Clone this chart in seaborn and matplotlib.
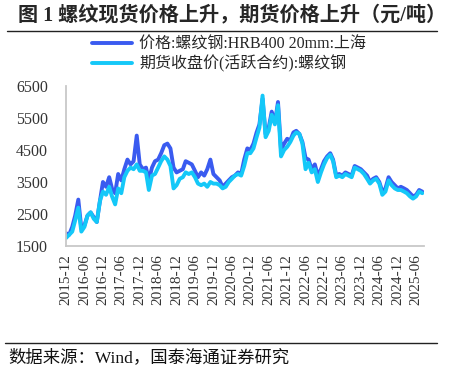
import matplotlib
matplotlib.use("Agg")
import matplotlib.pyplot as plt
import seaborn as sns
import pandas as pd

months = pd.date_range("2015-12-01", periods=117, freq="MS")

spot = [1900,1850,2100,2450,2950,2050,2150,2450,2550,2400,2250,2900,
        3500,3350,3650,3300,3150,3750,3550,3900,4200,4050,4150,4950,
        4050,3900,3950,3550,3950,4150,4200,4400,4650,4700,4550,3950,
        3800,3850,3900,4150,4100,4050,3850,3650,3800,3700,3900,4200,
        3750,3650,3550,3350,3450,3550,3650,3700,3800,3750,4200,4550,
        4500,4700,5050,5300,6100,5000,5200,5700,5350,6000,4500,4700,
        4850,4800,5050,5100,5000,4750,4250,4200,3900,4050,3700,3900,
        4150,4300,4400,4200,3700,3750,3700,3800,3750,3700,4000,3950,
        3900,3800,3700,3500,3600,3650,3500,3200,3300,3650,3500,3400,
        3300,3350,3300,3250,3150,3050,3100,3250,3200]

futures = [1750,1850,1950,2300,2700,1950,2100,2450,2550,2350,2250,2900,
           3200,3100,3350,3050,2800,3300,3150,3650,3850,3950,3900,4050,
           3850,3850,3800,3250,3700,3750,3950,4150,4300,4200,4000,3300,
           3400,3600,3650,3800,3750,3800,3650,3450,3400,3450,3350,3500,
           3450,3450,3400,3300,3350,3500,3600,3700,3750,3700,4000,4400,
           4400,4550,4900,5200,6200,4900,5100,5600,5300,5900,4300,4500,
           4600,4750,4950,5050,5000,4700,3900,4100,3800,3900,3500,3800,
           4050,4250,4350,4150,3650,3700,3650,3750,3700,3650,3950,3900,
           3850,3750,3600,3450,3550,3600,3450,3100,3200,3550,3400,3300,
           3250,3250,3200,3150,3050,2980,3050,3200,3150]

series_names = ["价格:螺纹钢:HRB400 20mm:上海", "期货收盘价(活跃合约):螺纹钢"]
series_colors = ["#3A5BF0", "#14C8F8"]
y_ticks = [1500, 2500, 3500, 4500, 5500, 6500]
x_ticks = pd.date_range("2015-12-01", "2025-06-01", freq="6MS")

df = pd.concat([
    pd.DataFrame({"date": months, "value": spot, "series": series_names[0]}),
    pd.DataFrame({"date": months, "value": futures, "series": series_names[1]}),
])

sns.set_theme(style="white")
fams = ["Liberation Serif", "Noto Sans CJK SC", "DejaVu Sans"]
plt.rcParams["font.family"] = fams

fig = plt.figure(figsize=(4.6, 3.73), dpi=100)
ax = fig.add_axes([66/460, 1-246/373, (424-66)/460, (246-86)/373])

sns.lineplot(data=df, x="date", y="value", hue="series", hue_order=series_names,
             palette=series_colors, linewidth=2.8, ax=ax, legend=True)

handles, labels = ax.get_legend_handles_labels()
ax.get_legend().remove()
for h in handles:
    h.set_linewidth(2.8)
fig.legend(handles, labels, loc="upper left", bbox_to_anchor=(92/460, 1-37/373),
           frameon=False, borderpad=0, borderaxespad=0,
           handlelength=2.5, handletextpad=0.45, labelspacing=0.12,
           prop={"family": fams, "size": 11.5})

ax.set_xlim(pd.Timestamp("2015-12-01"), pd.Timestamp("2025-08-18"))
ax.set_ylim(1500, 6500)
ax.set_yticks(y_ticks)
ax.set_yticklabels([str(v) for v in y_ticks], fontsize=11.5, color="#333333")
ax.set_xticks(x_ticks)
ax.set_xticklabels([d.strftime("%Y-%m") for d in x_ticks], rotation=90,
                   fontsize=11, color="#333333")
ax.set_xlabel("")
ax.set_ylabel("")
for s in ["top", "right"]:
    ax.spines[s].set_visible(False)
for s in ["left", "bottom"]:
    ax.spines[s].set_color("#C8C8C8")
    ax.spines[s].set_linewidth(1.3)
ax.tick_params(axis="both", direction="in", length=4, width=1, color="#C8C8C8")
ax.tick_params(axis="y", pad=13)
ax.tick_params(axis="x", pad=6)

fig.text(18/460, 1-15/373, "图 1 螺纹现货价格上升，期货价格上升（元/吨）",
         fontsize=14.5, fontweight="bold", va="center", ha="left", family=fams)
fig.add_artist(plt.Line2D([7/460, 437/460], [1-30.5/373, 1-30.5/373],
                          color="#222222", linewidth=1))
fig.add_artist(plt.Line2D([5/460, 437/460], [1-343/373, 1-343/373],
                          color="#222222", linewidth=1))
fig.text(8/460, 1-358/373, "数据来源：Wind，国泰海通证券研究",
         fontsize=12.5, va="center", ha="left", family=fams, color="#111111")

fig.savefig("out.png", dpi=100)
